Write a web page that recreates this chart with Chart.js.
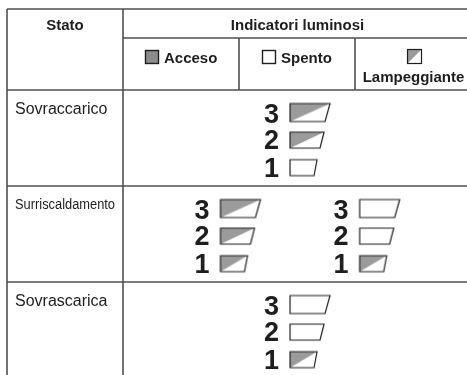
<!DOCTYPE html>
<html>
<head>
<meta charset="utf-8">
<script src="https://cdn.jsdelivr.net/npm/chart.js@4.4.1/dist/chart.umd.min.js"></script>
<style>
  html, body { margin: 0; padding: 0; background: #fff; }
  canvas { display: block; }
</style>
</head>
<body>
<canvas id="ledChart" width="467" height="375"></canvas>
<script>
// righe della tabella e livelli dei segmenti (dall'alto in basso)
const rows = ['Sovraccarico', 'Surriscaldamento', 'Sovrascarica'];
const levels = [3, 2, 1];
const legendLabels = ['Acceso', 'Spento', 'Lampeggiante'];

// stato dei segmenti 3,2,1 per ogni gruppo: L = lampeggiante, S = spento, A = acceso
const sovraccarico = [['L', 'L', 'S']];
const surriscaldamento = [['L', 'L', 'L'], ['S', 'S', 'L']];
const sovrascarica = [['S', 'S', 'L']];
const rowStates = [sovraccarico, surriscaldamento, sovrascarica];

const LINE = '#505050';
const GRAY = '#9b9b9b';
const INK = '#1e1e1e';

// dimensioni del segmento per livello
function ledSize(level) {
    if (level === 3) return { w: 40, h: 18, s: 5 };
    if (level === 2) return { w: 34, h: 16, s: 4 };
    return { w: 27, h: 16, s: 3 };
}

const imgCache = {};
function ledImage(state, level) {
    const key = state + level;
    if (imgCache[key]) return imgCache[key];
    const { w, h, s } = ledSize(level);
    const c = document.createElement('canvas');
    c.width = 2 * (w + 2);
    c.height = h + 4;
    const g = c.getContext('2d');
    const x0 = c.width / 2, y0 = 2;
    // sagoma: bordo sinistro verticale, bordo destro inclinato
    const path = () => {
        g.beginPath();
        g.moveTo(x0, y0);
        g.lineTo(x0 + w, y0);
        g.lineTo(x0 + w - s, y0 + h);
        g.lineTo(x0, y0 + h);
        g.closePath();
    };
    path();
    g.fillStyle = state === 'A' ? GRAY : '#fff';
    g.fill();
    if (state === 'L') {
        g.beginPath();
        g.moveTo(x0, y0);
        g.lineTo(x0 + w, y0);
        g.lineTo(x0, y0 + h);
        g.closePath();
        g.fillStyle = GRAY;
        g.fill();
    }
    path();
    g.lineWidth = 1.2;
    g.strokeStyle = INK;
    g.stroke();
    imgCache[key] = c;
    return c;
}

// punti: x nella colonna indicatori (0..1), y in unità di riga
const points = [];
rowStates.forEach((groups, r) => {
    groups.forEach((states, gi) => {
        const center = 0.5 + (gi - (groups.length - 1) / 2) * 0.4;
        states.forEach((state, k) => {
            points.push({ x: center - 0.02, y: r + 0.235 + k * 0.287, state: state, level: levels[k] });
        });
    });
});

const FONT = '"Liberation Sans", Arial, Helvetica, sans-serif';

const tablePlugin = {
    id: 'tablePlugin',
    beforeDraw(chart) {
        const { ctx, scales: { x, y } } = chart;
        const W = chart.width, H = chart.height;
        ctx.save();
        ctx.fillStyle = '#fff';
        ctx.fillRect(0, 0, W, H);

        const left = 7, top = 9, headMid = 38;
        const colX = x.getPixelForValue(0);
        const sub1 = x.getPixelForValue(1 / 3);
        const sub2 = x.getPixelForValue(2 / 3);
        const rowY = rows.map((_, r) => y.getPixelForValue(r));

        ctx.strokeStyle = LINE;
        ctx.lineWidth = 1.6;
        ctx.beginPath();
        ctx.moveTo(left, top); ctx.lineTo(W, top);
        ctx.moveTo(left, top); ctx.lineTo(left, H);
        ctx.moveTo(colX, top); ctx.lineTo(colX, H);
        ctx.moveTo(colX, headMid); ctx.lineTo(W, headMid);
        ctx.moveTo(sub1, headMid); ctx.lineTo(sub1, rowY[0]);
        ctx.moveTo(sub2, headMid); ctx.lineTo(sub2, rowY[0]);
        rowY.forEach(py => { ctx.moveTo(left, py); ctx.lineTo(W, py); });
        ctx.stroke();

        // intestazione
        ctx.fillStyle = INK;
        ctx.font = 'bold 15px ' + FONT;
        ctx.textBaseline = 'alphabetic';
        ctx.textAlign = 'center';
        ctx.fillText('Stato', (left + colX) / 2, 30);
        ctx.fillText('Indicatori luminosi', (colX + W + 5) / 2, 30);

        const colCenters = [(colX + sub1) / 2, (sub1 + sub2) / 2, (sub2 + W + 5) / 2];
        ctx.textAlign = 'left';
        [0, 1].forEach(i => {
            const tw = ctx.measureText(legendLabels[i]).width;
            const start = Math.round(colCenters[i] - (14 + 5 + tw) / 2);
            ctx.fillStyle = i === 0 ? '#8c8c8c' : '#fff';
            ctx.fillRect(start + 0.5, 50.5, 13, 13);
            ctx.lineWidth = 1.4;
            ctx.strokeStyle = INK;
            ctx.strokeRect(start + 0.5, 50.5, 13, 13);
            ctx.fillStyle = INK;
            ctx.fillText(legendLabels[i], start + 19, 63);
        });
        // icona lampeggiante
        const ix = Math.round(colCenters[2] - 7) + 0.5;
        ctx.fillStyle = '#fff';
        ctx.fillRect(ix, 49.5, 14, 14);
        ctx.beginPath();
        ctx.moveTo(ix, 49.5); ctx.lineTo(ix + 14, 49.5); ctx.lineTo(ix, 63.5); ctx.closePath();
        ctx.fillStyle = GRAY;
        ctx.fill();
        ctx.strokeStyle = INK;
        ctx.lineWidth = 1.2;
        ctx.strokeRect(ix, 49.5, 14, 14);
        ctx.fillStyle = INK;
        ctx.textAlign = 'center';
        ctx.fillText(legendLabels[2], colCenters[2], 82);

        // nomi delle righe
        ctx.textAlign = 'left';
        rows.forEach((name, r) => {
            const by = rowY[r] + 24;
            if (name === 'Surriscaldamento') {
                ctx.font = '14px ' + FONT;
                const tw = ctx.measureText(name).width;
                ctx.save();
                ctx.translate(15, by - 1);
                ctx.scale(100 / tw, 1);
                ctx.fillText(name, 0, 0);
                ctx.restore();
            } else {
                ctx.font = '16px ' + FONT;
                ctx.fillText(name, 15, by);
            }
        });
        ctx.restore();
    },
    afterDatasetsDraw(chart) {
        const { ctx } = chart;
        const meta = chart.getDatasetMeta(0);
        ctx.save();
        ctx.fillStyle = INK;
        ctx.font = 'bold 27px ' + FONT;
        ctx.textAlign = 'right';
        ctx.textBaseline = 'alphabetic';
        meta.data.forEach((el, i) => {
            const p = points[i];
            const { h } = ledSize(p.level);
            ctx.fillText(String(p.level), el.x - 11, el.y + h / 2 + 1);
        });
        ctx.restore();
    }
};

new Chart(document.getElementById('ledChart').getContext('2d'), {
    type: 'scatter',
    data: {
        datasets: [{
            label: 'Indicatori luminosi',
            data: points,
            pointStyle: ctx => ctx.raw ? ledImage(ctx.raw.state, ctx.raw.level) : 'circle',
            pointRadius: 10,
            pointHoverRadius: 10
        }]
    },
    options: {
        responsive: false,
        animation: false,
        events: [],
        layout: { padding: 0, autoPadding: false },
        scales: {
            x: { type: 'linear', display: false, min: -123 / 348, max: 344 / 348 },
            y: { type: 'linear', display: false, reverse: true, min: -90 / 96, max: 285 / 96 }
        },
        plugins: {
            legend: { display: false },
            tooltip: { enabled: false }
        }
    },
    plugins: [tablePlugin]
});
</script>
</body>
</html>
